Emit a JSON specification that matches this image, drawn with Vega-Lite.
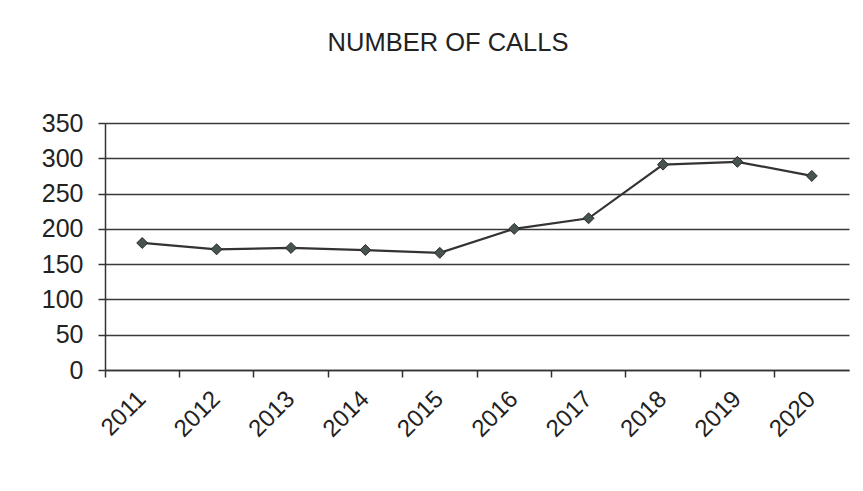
{
  "$schema": "https://vega.github.io/schema/vega-lite/v6.json",
  "width": 744,
  "height": 247,
  "autosize": {"type": "none"},
  "padding": {"left": 105, "top": 123, "right": 14, "bottom": 121},
  "background": "white",
  "title": {
    "text": "NUMBER  OF CALLS",
    "font": "Liberation Sans",
    "fontSize": 25.5,
    "fontWeight": "normal",
    "color": "#222222",
    "anchor": "middle",
    "dx": -29,
    "offset": 55
  },
  "data": {
    "values": [
      {"year": "2011", "calls": 180},
      {"year": "2012", "calls": 171},
      {"year": "2013", "calls": 173},
      {"year": "2014", "calls": 170},
      {"year": "2015", "calls": 166},
      {"year": "2016", "calls": 200},
      {"year": "2017", "calls": 215},
      {"year": "2018", "calls": 291},
      {"year": "2019", "calls": 295},
      {"year": "2020", "calls": 275}
    ]
  },
  "encoding": {
    "x": {
      "field": "year",
      "type": "ordinal",
      "scale": {"type": "band", "paddingInner": 0, "paddingOuter": 0},
      "axis": {
        "title": null,
        "bandPosition": 0,
        "labelAngle": -45,
        "labelAlign": "right",
        "labelBaseline": "middle",
        "labelFont": "Liberation Sans",
        "labelFontSize": 24,
        "labelColor": "#222222",
        "labelPadding": 18,
        "tickSize": 7,
        "tickColor": "#333333",
        "tickWidth": 1.5,
        "domainColor": "#333333",
        "domainWidth": 1.5,
        "grid": false
      }
    },
    "y": {
      "field": "calls",
      "type": "quantitative",
      "scale": {"domain": [0, 350], "nice": false},
      "axis": {
        "title": null,
        "values": [0, 50, 100, 150, 200, 250, 300, 350],
        "labelFont": "Liberation Sans",
        "labelFontSize": 25,
        "labelColor": "#222222",
        "labelPadding": 15,
        "tickSize": 7,
        "tickColor": "#333333",
        "tickWidth": 1.5,
        "domainColor": "#333333",
        "domainWidth": 1.5,
        "grid": true,
        "gridColor": "#3a3a3a",
        "gridWidth": 1.5
      }
    }
  },
  "layer": [
    {
      "mark": {"type": "line", "color": "#333333", "strokeWidth": 2.2},
      "encoding": {"x": {"field": "year", "type": "ordinal", "bandPosition": 0.5}}
    },
    {
      "mark": {"type": "point", "shape": "diamond", "size": 120, "filled": true, "fill": "#46534f", "stroke": "#2a2a2a", "strokeWidth": 1, "opacity": 1},
      "encoding": {"x": {"field": "year", "type": "ordinal", "bandPosition": 0.5}}
    }
  ],
  "config": {
    "view": {"stroke": null}
  }
}
